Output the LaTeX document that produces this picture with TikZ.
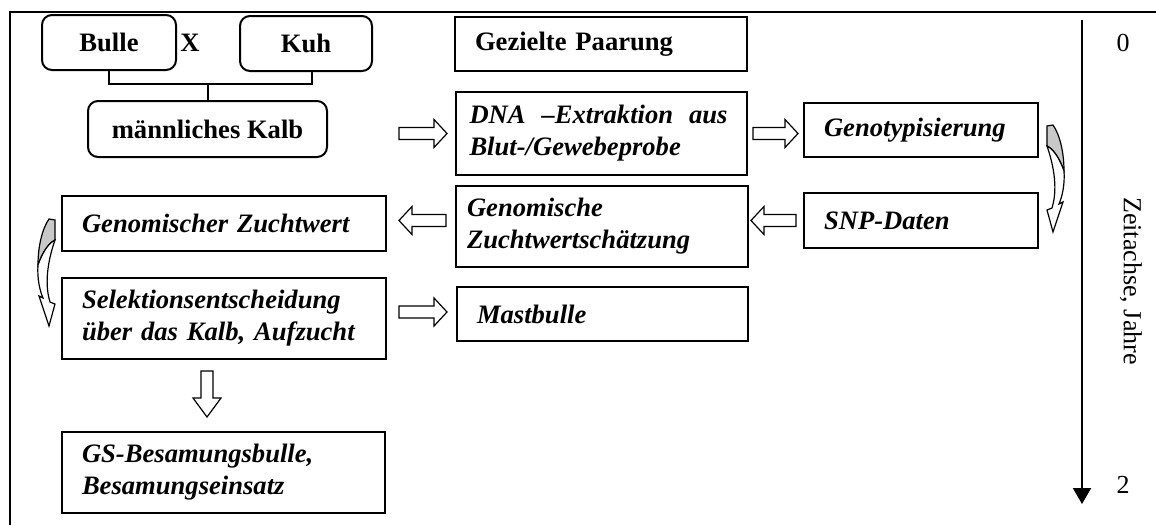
\documentclass[tikz,border=0pt]{standalone}
\usepackage{fontspec}
\setmainfont{Liberation Serif}
\usetikzlibrary{arrows.meta,calc}
\definecolor{tailgray}{HTML}{C8C8C8}
\newcommand{\parentfont}{\fontsize{13.3}{16}\selectfont\bfseries}
\newcommand{\stagefont}{\fontsize{13.3}{16}\selectfont\bfseries\itshape}
\newcommand{\axisfont}{\fontsize{13}{15}\selectfont}

% hollow block arrow: [head length]{tail}{tip}
\newcommand{\hollowarrow}[3][6.5pt]{%
  \coordinate (ha-a) at (#2);
  \coordinate (ha-b) at (#3);
  \coordinate (ha-h) at ($(ha-b)!#1!(ha-a)$);
  \draw[line width=0.6pt,fill=white]
    ($(ha-a)!3pt!90:(ha-b)$) -- ($(ha-h)!3pt!-90:(ha-a)$) -- ($(ha-h)!7pt!-90:(ha-a)$)
    -- (ha-b) -- ($(ha-h)!7pt!90:(ha-a)$) -- ($(ha-h)!3pt!90:(ha-a)$)
    -- ($(ha-a)!3pt!-90:(ha-b)$) -- cycle;
}

\tikzset{
  bendarrow/.pic={
    \draw[line width=0.6pt,fill=tailgray] (0,1) -- (6,0) .. controls (13,10) and (17,28) .. (17,46)
      .. controls (12,32) and (6,24) .. (0,21) -- cycle;
    \draw[line width=0.6pt,fill=white] (0,21) .. controls (6,24) and (12,32) .. (17,46)
      .. controls (18,60) and (15,72) .. (12,79) -- (16,77) -- (6,107) -- (0,85) -- (5,83)
      .. controls (9,70) and (10,50) .. (0,21) -- cycle;
  }
}

\begin{document}
\begin{tikzpicture}[x=0.5pt,y=-0.5pt,
  parent/.style={draw,line width=1pt,rounded corners=5pt,font=\parentfont,align=center},
  stage/.style={draw,line width=1pt,font=\stagefont,align=left,inner xsep=10pt,inner ysep=2pt}]
  \useasboundingbox (0,0) rectangle (1156,525);

  % frame
  \draw[line width=1pt] (10,525) -- (10,12) -- (1156,12);

  % parents and calf
  \node[parent,minimum width=67pt,minimum height=27.5pt] (bulle) at (109,42.5) {Bulle};
  \node[parent,minimum width=66pt,minimum height=27.5pt] (kuh) at (306,43.5) {Kuh};
  \node[font=\parentfont] (cross) at (190,43) {X};
  \node[parent,minimum width=119.5pt,minimum height=28pt] (kalb) at (207.5,129) {männliches Kalb};
  \coordinate (mid) at ([yshift=8pt]kalb.north);
  \draw[line width=1pt] (bulle.south) |- (mid) -| ([xshift=3pt]kuh.south);
  \draw[line width=1pt] (mid) -- (kalb.north);

  % process boxes
  \node[stage,font=\parentfont,minimum width=146pt,minimum height=27pt,text width=126pt] (paarung) at (601,44) {Gezielte Paarung};
  \node[stage,inner xsep=5.5pt,minimum width=145.5pt,minimum height=41.5pt,text width=132pt] (dna) at (601.5,133.5)
    {\hbox to 129pt{DNA\hfil\ –Extraktion\hfil\ aus}\\Blut-/Gewebeprobe};
  \node[stage,minimum width=117pt,minimum height=27pt,text width=97pt] (geno) at (921,130) {Genotypisierung};
  \node[stage,minimum width=117pt,minimum height=27.5pt,text width=97pt] (snp) at (921,220.5) {SNP-Daten};
  \node[stage,inner xsep=5.5pt,minimum width=146pt,minimum height=40.5pt,text width=135pt] (gzs) at (602,226.5)
    {Genomische\\Zuchtwertschätzung};
  \node[stage,minimum width=162pt,minimum height=27.5pt,text width=142pt] (gz) at (224,223.5) {Genomischer Zuchtwert};
  \node[stage,minimum width=162pt,minimum height=40.5pt,text width=142pt] (sel) at (224,318.5)
    {Selektionsentscheidung\\über das Kalb, Aufzucht};
  \node[stage,minimum width=145.5pt,minimum height=27pt,text width=125.5pt] (mast) at (602.5,314) {Mastbulle};
  \node[stage,minimum width=161.5pt,minimum height=40.5pt,text width=141.5pt] (gs) at (223.5,472.5)
    {GS-Besamungsbulle,\\Besamungseinsatz};

  % block arrows
  \hollowarrow{[xshift=-28pt]dna.west}{[xshift=-4pt]dna.west}
  \hollowarrow{[xshift=2.5pt]dna.east}{[xshift=25pt]dna.east}
  \hollowarrow{[xshift=-3.5pt]snp.west}{[xshift=-26pt]snp.west}
  \hollowarrow{[xshift=-4.5pt,yshift=3pt]gzs.west}{[xshift=-28pt,yshift=3pt]gzs.west}
  \hollowarrow{[xshift=-28.5pt,yshift=1pt]mast.west}{[xshift=-4.5pt,yshift=1pt]mast.west}
  \hollowarrow[9.5pt]{[xshift=-8.5pt,yshift=-5.5pt]sel.south}{[xshift=-8.5pt,yshift=-28.5pt]sel.south}

  % curved arrows
  \pic at ([xshift=4pt,yshift=-11.5pt]geno.north east) {bendarrow};
  \pic[xscale=-1] at ([xshift=-3pt,yshift=-12pt]gz.north west) {bendarrow};

  % time axis
  \coordinate (t0) at (1082,20);
  \coordinate (t2) at (1082,504);
  \draw[line width=1pt,-{Triangle[length=8pt,width=9pt]}] (t0) -- (t2);
  \node[font=\axisfont] (y0) at (1123,43) {0};
  \node[font=\axisfont] (y2) at (1123,485) {2};
  \node[font=\axisfont,rotate=-90] (zeit) at (1131,281) {Zeitachse, Jahre};
\end{tikzpicture}
\end{document}
